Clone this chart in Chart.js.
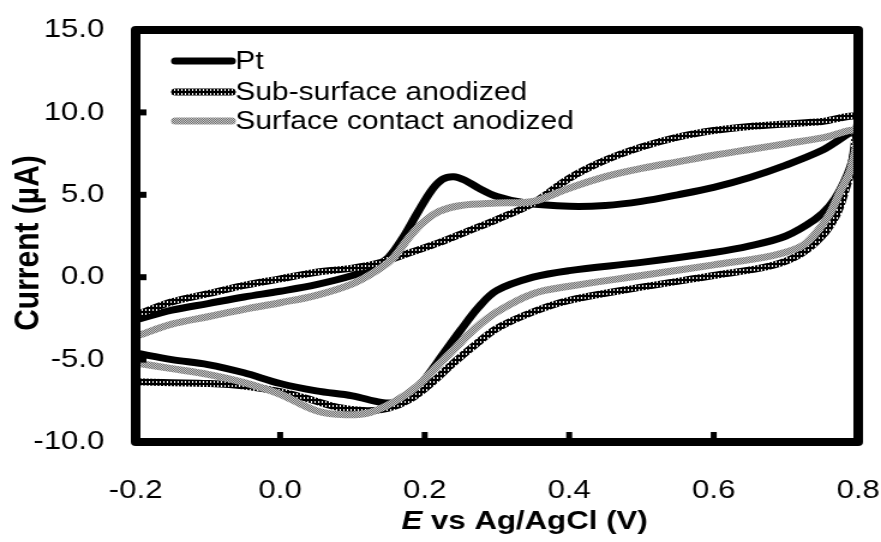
<!DOCTYPE html>
<html>
<head>
<meta charset="utf-8">
<script src="https://cdn.jsdelivr.net/npm/chart.js@4.4.1/dist/chart.umd.min.js"></script>
<style>
html, body { margin: 0; padding: 0; background: #fff; overflow: hidden; }
#wrap { width: 734px; height: 542px; transform: scaleX(1.2003); transform-origin: 0 0; }
#myChart { display: block; }
</style>
</head>
<body>
<div id="wrap"><canvas id="myChart" width="734" height="542"></canvas></div>
<script>
// series names, in legend order
const seriesNames = ['Pt', 'Sub-surface anodized', 'Surface contact anodized'];

// Pt: forward scan then reverse scan
const ptE = [-0.2,-0.15,-0.1,-0.05,0.0,0.05,0.1,0.13,0.15,0.17,0.19,0.21,0.225,0.24,0.255,0.275,0.3,0.34,0.4,0.45,0.5,0.55,0.6,0.65,0.7,0.75,0.8,
  0.79,0.775,0.76,0.74,0.7,0.65,0.6,0.5,0.4,0.35,0.3,0.275,0.25,0.225,0.2,0.18,0.16,0.14,0.1,0.05,0.0,-0.05,-0.1,-0.15,-0.2];
const ptI = [-2.6,-2.0,-1.6,-1.2,-0.85,-0.45,0.1,0.6,1.2,2.4,3.9,5.3,5.95,6.1,5.9,5.4,4.9,4.5,4.3,4.35,4.6,5.0,5.45,6.05,6.8,7.7,8.9,
  6.8,5.3,4.3,3.5,2.5,1.9,1.5,0.9,0.4,0.0,-0.8,-1.8,-3.2,-4.7,-6.2,-7.2,-7.6,-7.6,-7.2,-6.9,-6.45,-5.8,-5.3,-5.0,-4.6];

// Sub-surface anodized
const subE = [-0.2,-0.15,-0.1,-0.05,0.0,0.05,0.1,0.14,0.18,0.22,0.26,0.3,0.35,0.4,0.45,0.5,0.55,0.6,0.65,0.7,0.75,0.8,
  0.795,0.79,0.78,0.77,0.75,0.72,0.68,0.6,0.5,0.4,0.35,0.3,0.27,0.24,0.21,0.18,0.15,0.12,0.08,0.04,0.0,-0.05,-0.1,-0.15,-0.2];
const subI = [-2.3,-1.5,-1.0,-0.5,-0.1,0.3,0.55,0.9,1.5,2.1,2.8,3.5,4.5,6.0,7.1,7.9,8.5,8.9,9.15,9.3,9.45,9.7,
  8.0,6.5,5.0,3.8,2.5,1.4,0.7,0.1,-0.6,-1.4,-2.1,-3.1,-4.1,-5.2,-6.4,-7.4,-7.95,-8.1,-7.9,-7.4,-6.95,-6.6,-6.45,-6.4,-6.35];

// Surface contact anodized
const surfE = [-0.2,-0.15,-0.1,-0.05,0.0,0.05,0.1,0.13,0.155,0.18,0.2,0.22,0.25,0.3,0.35,0.4,0.45,0.5,0.55,0.6,0.65,0.7,0.75,0.8,
  0.79,0.775,0.76,0.74,0.72,0.68,0.6,0.5,0.4,0.35,0.3,0.27,0.24,0.215,0.19,0.16,0.125,0.09,0.05,0.0,-0.05,-0.1,-0.15,-0.2];
const surfI = [-3.6,-2.85,-2.4,-1.95,-1.55,-1.1,-0.4,0.3,1.1,2.5,3.4,4.0,4.35,4.5,4.6,5.4,6.1,6.6,7.0,7.4,7.75,8.1,8.45,8.85,
  6.6,5.2,3.8,2.6,1.85,1.3,0.75,0.1,-0.55,-1.0,-2.1,-3.1,-4.4,-5.5,-6.6,-7.5,-8.2,-8.35,-8.1,-7.1,-6.4,-5.9,-5.55,-5.2];

// axis ranges
const xMin = -0.2, xMax = 0.8, xStep = 0.2;
const yMin = -10, yMax = 15, yStep = 5;

const FONT = "'Liberation Sans', Arial, sans-serif";

function pts(xs, ys) {
  return xs.map((x, i) => ({ x: x, y: ys[i] }));
}

// line fills: black with white dots, and fine grey checker
function dotPattern() {
  const c = document.createElement('canvas');
  c.width = 3; c.height = 4;
  const g = c.getContext('2d');
  g.fillStyle = '#000'; g.fillRect(0, 0, 3, 4);
  g.fillStyle = '#fff'; g.fillRect(1, 1, 1, 2);
  return g.createPattern(c, 'repeat');
}
function greyPattern() {
  const c = document.createElement('canvas');
  c.width = 2; c.height = 2;
  const g = c.getContext('2d');
  g.fillStyle = '#c8c8c8'; g.fillRect(0, 0, 2, 2);
  g.fillStyle = '#6e6e6e'; g.fillRect(0, 0, 1, 1); g.fillRect(1, 1, 1, 1);
  return g.createPattern(c, 'repeat');
}

const ctx = document.getElementById('myChart').getContext('2d');
const colors = ['#000', dotPattern(), greyPattern()];

// frame, inner tick marks, legend and axis titles
const decor = {
  id: 'decor',
  afterDatasetsDraw(chart) {
    const c = chart.ctx;
    const a = chart.chartArea;
    const xs = chart.scales.x, ys = chart.scales.y;
    c.save();
    c.strokeStyle = '#000';
    c.lineJoin = 'round';
    c.lineWidth = 8;
    c.strokeRect(a.left, a.top, a.right - a.left, a.bottom - a.top);

    c.lineCap = 'butt';
    c.lineWidth = 6;
    ys.ticks.forEach(t => {
      if (t.value <= yMin || t.value >= yMax) return;
      const y = ys.getPixelForValue(t.value);
      c.beginPath(); c.moveTo(a.left, y); c.lineTo(a.left + 9, y); c.stroke();
    });
    c.lineWidth = 5;
    xs.ticks.forEach(t => {
      if (t.value <= xMin + 1e-9 || t.value >= xMax - 1e-9) return;
      const x = xs.getPixelForValue(t.value);
      c.beginPath(); c.moveTo(x, a.bottom); c.lineTo(x, a.bottom - 10); c.stroke();
    });

    // legend
    const lx0 = 146, lx1 = 193, ly = [61, 92, 121];
    chart.data.datasets.forEach((ds, i) => {
      c.strokeStyle = ds.borderColor;
      c.lineWidth = 7;
      c.lineCap = 'round';
      c.beginPath(); c.moveTo(lx0, ly[i]); c.lineTo(lx1, ly[i]); c.stroke();
      c.fillStyle = '#000';
      c.font = '25px ' + FONT;
      c.textAlign = 'left';
      c.textBaseline = 'middle';
      c.fillText(ds.label, lx1 + 3, ly[i] + 1);
    });

    // y title
    c.save();
    c.translate(24, 243);
    c.rotate(-Math.PI / 2);
    c.font = 'bold 30px ' + FONT;
    c.textAlign = 'center';
    c.textBaseline = 'middle';
    c.fillStyle = '#000';
    c.fillText('Current (\u00b5A)', 0, 0);
    c.restore();

    // x title, italic E
    const p1 = 'E', p2 = ' vs Ag/AgCl (V)';
    c.font = 'italic bold 26px ' + FONT;
    const w1 = c.measureText(p1).width;
    c.font = 'bold 26px ' + FONT;
    const w2 = c.measureText(p2).width;
    let x0 = 437 - (w1 + w2) / 2;
    c.textAlign = 'left';
    c.textBaseline = 'middle';
    c.fillStyle = '#000';
    c.font = 'italic bold 26px ' + FONT;
    c.fillText(p1, x0, 522);
    c.font = 'bold 26px ' + FONT;
    c.fillText(p2, x0 + w1, 522);
    c.restore();
  }
};

const chart = new Chart(ctx, {
  type: 'scatter',
  data: {
    datasets: [
      { label: seriesNames[0], data: pts(ptE, ptI), order: 2 },
      { label: seriesNames[1], data: pts(subE, subI), order: 1 },
      { label: seriesNames[2], data: pts(surfE, surfI), order: 0 }
    ].map((d, i) => Object.assign(d, {
      showLine: true,
      borderColor: colors[i],
      backgroundColor: colors[i],
      borderWidth: 7,
      borderCapStyle: 'round',
      borderJoinStyle: 'round',
      pointRadius: 0,
      pointHoverRadius: 0,
      tension: 0.35,
      fill: false
    }))
  },
  options: {
    responsive: false,
    animation: false,
    devicePixelRatio: 1,
    layout: { padding: { top: 30, right: 19, bottom: 0, left: 0 } },
    plugins: { legend: { display: false }, tooltip: { enabled: false } },
    scales: {
      x: {
        type: 'linear', min: xMin, max: xMax,
        // tick marks hidden; tickLength only spaces the labels
        grid: { display: false, drawTicks: true, tickLength: 33 },
        border: { display: false },
        afterFit(s) { s.height = 100; },
        ticks: {
          stepSize: xStep, autoSkip: false, maxRotation: 0, padding: 0,
          color: '#000', font: { family: FONT, size: 26 },
          callback: v => Number(v).toFixed(1)
        }
      },
      y: {
        type: 'linear', min: yMin, max: yMax,
        grid: { display: false, drawTicks: true, tickLength: 26 },
        border: { display: false },
        afterFit(s) { s.width = 113; },
        ticks: {
          stepSize: yStep, padding: 0,
          color: '#000', font: { family: FONT, size: 26 },
          callback: v => Number(v).toFixed(1)
        }
      }
    }
  },
  plugins: [decor]
});
</script>
</body>
</html>
